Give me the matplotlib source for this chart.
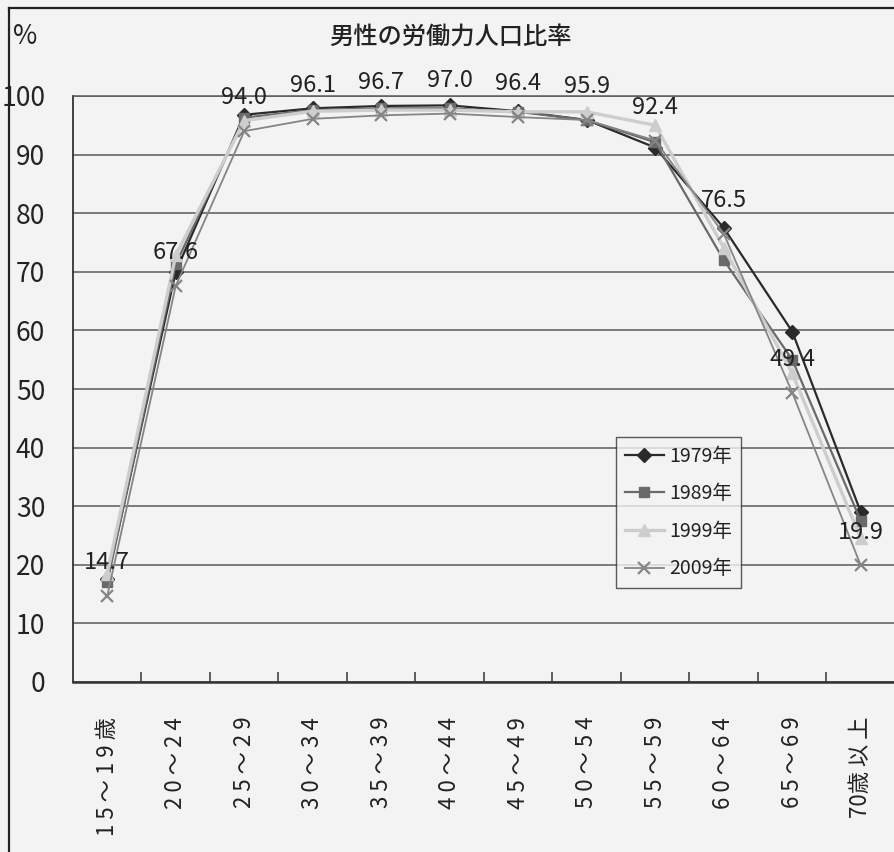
import matplotlib
matplotlib.use("Agg")
import matplotlib.pyplot as plt
from matplotlib.lines import Line2D
import numpy as np

plt.rcParams['font.family'] = ['Noto Sans CJK JP', 'DejaVu Sans']

# 男性の労働力人口比率 (%), by age group
ages = ['1 5 ～ 1 9 歳', '2 0 ～ 2 4', '2 5 ～ 2 9', '3 0 ～ 3 4', '3 5 ～ 3 9', '4 0 ～ 4 4',
        '4 5 ～ 4 9', '5 0 ～ 5 4', '5 5 ～ 5 9', '6 0 ～ 6 4', '6 5 ～ 6 9', '70歳 以 上']
years = ['1979年', '1989年', '1999年', '2009年']
v1979 = [17.5, 70.0, 96.8, 97.9, 98.3, 98.4, 97.4, 95.9, 91.2, 77.5, 59.8, 29.0]
v1989 = [17.0, 71.3, 96.3, 97.6, 97.9, 97.9, 97.3, 95.9, 92.1, 72.0, 55.0, 27.5]
v1999 = [18.5, 72.8, 95.8, 97.4, 97.6, 97.6, 97.3, 97.3, 95.0, 74.1, 52.7, 24.5]
v2009 = [14.7, 67.6, 94.0, 96.1, 96.7, 97.0, 96.4, 95.9, 92.4, 76.5, 49.4, 19.9]

paper = '#f3f3f3'
ink = '#222222'
fig = plt.figure(figsize=(8.95, 8.52), dpi=100, facecolor=paper)
ax = fig.add_axes([73/895, 1 - 682/852, 1 - 73/895, (682 - 96)/852])
ax.set_facecolor(paper)

x = np.arange(len(ages))
styles = [
    (v1979, dict(color='#2a2a2a', lw=1.6, marker='D', ms=7, mfc='#2a2a2a', mec='#2a2a2a')),
    (v1989, dict(color='#6a6a6a', lw=1.6, marker='s', ms=7.5, mfc='#6a6a6a', mec='#6a6a6a')),
    (v1999, dict(color='#cdcdcd', lw=2.4, marker='^', ms=8, mfc='#cdcdcd', mec='#cdcdcd')),
    (v2009, dict(color='#858585', lw=1.3, marker='x', ms=9, mew=1.6)),
]
for (vals, kw), yr in zip(styles, years):
    ax.plot(x, vals, label=yr, **kw)

# value labels for 2009
for xi, v in zip(x, v2009):
    ax.annotate(f'{v:.1f}', (xi, v), xytext=(0, 24), textcoords='offset points',
                ha='center', va='center', fontsize=17, color=ink)

ax.set_xlim(-0.5, len(ages) - 0.5)
ax.set_ylim(0, 100)
ax.set_yticks(np.arange(0, 101, 10))
ax.tick_params(axis='y', length=0, pad=20, labelsize=19, labelcolor=ink)
ax.grid(axis='y', color='#5a5a5a', lw=1.1)
ax.set_axisbelow(True)

ax.set_xticks(x)
ax.set_xticklabels(ages, rotation=90, fontsize=16, color=ink, va='top')
ax.tick_params(axis='x', which='major', length=0, pad=25)
ax.set_xticks(np.arange(0.5, len(ages) - 0.5, 1), minor=True)
ax.tick_params(axis='x', which='minor', direction='in', length=7, width=1.2, color='#444444')

ax.spines['right'].set_visible(False)
ax.spines['top'].set_color('#5a5a5a')
ax.spines['top'].set_linewidth(1.1)
ax.spines['left'].set_color('#333333')
ax.spines['left'].set_linewidth(1.3)
ax.spines['bottom'].set_color('#333333')
ax.spines['bottom'].set_linewidth(1.8)

leg = ax.legend(loc='upper left', bbox_to_anchor=((616 - 73)/822, (682 - 437)/586),
                borderaxespad=0, fontsize=14, frameon=True, fancybox=False,
                handlelength=2.0, handletextpad=0.3, labelspacing=0.85, borderpad=0.45)
leg.get_frame().set_edgecolor('#333333')
leg.get_frame().set_linewidth(1.0)
leg.get_frame().set_facecolor(paper)
for t in leg.get_texts():
    t.set_color(ink)

fig.text(450/895, 1 - 37/852, '男性の労働力人口比率', ha='center', va='center',
         fontsize=17.5, fontweight='medium', color=ink)
fig.text(13/895, 1 - 37/852, '%', ha='left', va='center', fontsize=19, color=ink)

# outer frame of the figure
fig.add_artist(Line2D([9/895, 1], [1 - 8/852, 1 - 8/852], color=ink, lw=1.6))
fig.add_artist(Line2D([9/895, 9/895], [0, 1 - 8/852], color=ink, lw=1.6))

fig.savefig('out.png', dpi=100, facecolor=paper)
